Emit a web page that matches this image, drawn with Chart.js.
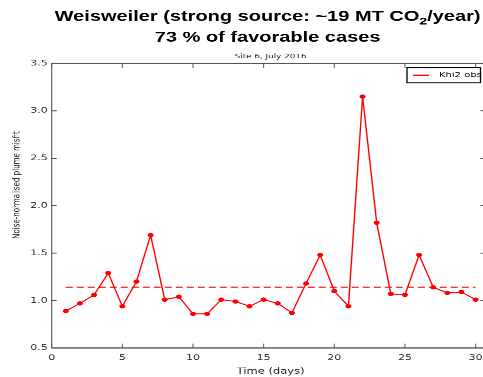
<!DOCTYPE html>
<html>
<head>
<meta charset="utf-8">
<script src="https://cdn.jsdelivr.net/npm/chart.js@4"></script>
<style>
    html, body { margin: 0; padding: 0; background: #fff; overflow: hidden; width: 483px; height: 377px; }
    /* the source figure was squashed vertically, so draw tall and squash it the same way */
    #wrap { width: 500px; height: 524px; transform: scaleY(0.72); transform-origin: 0 0; }
</style>
</head>
<body>
<div id="wrap"><canvas id="chart" width="500" height="524"></canvas></div>
<script>
// Site 6, July 2016 -- noise-normalised misfit per day
const DAYS = [1, 2, 3, 4, 5, 6, 7, 8, 9, 10, 11, 12, 13, 14, 15,
              16, 17, 18, 19, 20, 21, 22, 23, 24, 25, 26, 27, 28, 29, 30];
const MISFIT = [0.89, 0.97, 1.06, 1.29, 0.94, 1.20, 1.69, 1.01, 1.04, 0.86,
                0.86, 1.01, 0.99, 0.94, 1.01, 0.97, 0.87, 1.18, 1.48, 1.10,
                0.94, 3.15, 1.82, 1.07, 1.06, 1.48, 1.14, 1.08, 1.09, 1.01];
const MEAN_MISFIT = 1.14;
const X_TICKS = [0, 5, 10, 15, 20, 25, 30];
const Y_TICKS = [0.5, 1.0, 1.5, 2.0, 2.5, 3.0, 3.5];

const TITLE_MAIN = 'Weisweiler (strong source: ~19 MT CO';
const TITLE_SUB = '2';
const TITLE_END = '/year)';
const TITLE_LINE2 = '73 % of favorable cases';
const SUBTITLE = 'Site 6, July 2016';
const X_LABEL = 'Time (days)';
const Y_LABEL = 'Noise-normalised plume misfit';
const SERIES_LABEL = 'Khi2 obs';

const RED = '#ff0000';
const DASH_RED = '#ff3030';
const AXIS = '#555';

const decor = {
    id: 'decor',
    afterDraw(chart) {
        const { ctx, chartArea: a, scales } = chart;
        const xs = scales.x, ys = scales.y;
        ctx.save();
        ctx.strokeStyle = AXIS;

        // frame
        ctx.lineWidth = 1.1;
        ctx.beginPath();
        ctx.moveTo(a.left, a.top); ctx.lineTo(a.left, a.bottom);
        ctx.moveTo(a.right, a.top); ctx.lineTo(a.right, a.bottom);
        ctx.stroke();
        ctx.lineWidth = 1.6;
        ctx.beginPath();
        ctx.moveTo(a.left, a.top); ctx.lineTo(a.right, a.top);
        ctx.moveTo(a.left, a.bottom); ctx.lineTo(a.right, a.bottom);
        ctx.stroke();

        // inward ticks, matplotlib classic
        ctx.lineWidth = 1;
        ctx.beginPath();
        xs.ticks.forEach(t => {
            const px = xs.getPixelForValue(t.value);
            ctx.moveTo(px, a.bottom); ctx.lineTo(px, a.bottom - 6);
            ctx.moveTo(px, a.top); ctx.lineTo(px, a.top + 6);
        });
        ctx.stroke();
        ctx.lineWidth = 1.4;
        ctx.beginPath();
        ys.ticks.forEach(t => {
            const py = ys.getPixelForValue(t.value);
            ctx.moveTo(a.left, py); ctx.lineTo(a.left + 5, py);
            ctx.moveTo(a.right, py); ctx.lineTo(a.right - 5, py);
        });
        ctx.stroke();

        // titles
        const cx = (a.left + a.right) / 2;
        ctx.fillStyle = '#000';
        ctx.textBaseline = 'alphabetic';
        ctx.textAlign = 'left';
        const bold = "bold 20px 'Liberation Sans', Arial, sans-serif";
        const boldSub = "bold 14px 'Liberation Sans', Arial, sans-serif";
        ctx.font = bold;
        const w1 = ctx.measureText(TITLE_MAIN).width;
        const w3 = ctx.measureText(TITLE_END).width;
        ctx.font = boldSub;
        const w2 = ctx.measureText(TITLE_SUB).width;
        let x0 = cx - 1 - (w1 + w2 + w3) / 2;
        ctx.font = bold;
        ctx.fillText(TITLE_MAIN, x0, 29);
        ctx.font = boldSub;
        ctx.fillText(TITLE_SUB, x0 + w1, 34);
        ctx.font = bold;
        ctx.fillText(TITLE_END, x0 + w1 + w2, 29);
        ctx.textAlign = 'center';
        ctx.fillText(TITLE_LINE2, cx - 1, 58);

        ctx.textBaseline = 'middle';
        ctx.font = "8.8px 'DejaVu Sans', sans-serif";
        ctx.fillStyle = '#222';
        ctx.fillText(SUBTITLE, cx + 2, 78.7);

        // axis labels
        ctx.font = "11.5px 'DejaVu Sans', sans-serif";
        ctx.fillText(X_LABEL, cx + 2, 516);
        ctx.save();
        ctx.translate(17, 257);
        ctx.rotate(-Math.PI / 2);
        ctx.font = "9.8px 'DejaVu Sans', sans-serif";
        ctx.fillText(Y_LABEL, 0, 0);
        ctx.restore();

        // legend box
        const lx = a.right - 78.5, ly = a.top + 6, lw = 73.5, lh = 21;
        ctx.fillStyle = '#fff';
        ctx.fillRect(lx, ly, lw, lh);
        ctx.strokeStyle = '#000';
        ctx.lineWidth = 1.3;
        ctx.strokeRect(lx, ly, lw, lh);
        ctx.strokeStyle = RED;
        ctx.lineWidth = 1.8;
        ctx.beginPath();
        ctx.moveTo(lx + 6, ly + lh / 2); ctx.lineTo(lx + 22, ly + lh / 2);
        ctx.stroke();
        ctx.fillStyle = '#111';
        ctx.textAlign = 'left';
        ctx.font = "10px 'DejaVu Sans', sans-serif";
        ctx.fillText(SERIES_LABEL, lx + 32, ly + lh / 2);
        ctx.restore();
    },
};

new Chart(document.getElementById('chart'), {
    type: 'line',
    data: {
        datasets: [
            {
                label: SERIES_LABEL,
                data: DAYS.map((d, i) => ({ x: d, y: MISFIT[i] })),
                borderColor: RED,
                backgroundColor: RED,
                borderWidth: 1.4,
                pointRadius: 3,
                pointBorderWidth: 0,
                tension: 0,
            },
            {
                label: 'mean',
                data: [DAYS[0], DAYS[DAYS.length - 1]].map(d => ({ x: d, y: MEAN_MISFIT })),
                borderColor: DASH_RED,
                backgroundColor: 'transparent',
                fill: false,
                borderWidth: 2,
                borderDash: [7, 4],
                pointRadius: 0,
            },
        ],
    },
    options: {
        responsive: false,
        animation: false,
        devicePixelRatio: 2,
        layout: { padding: { top: 88, right: 14.5, left: 0, bottom: 0 } },
        plugins: {
            legend: { display: false },
            title: { display: false },
            tooltip: { enabled: false },
        },
        scales: {
            x: {
                type: 'linear',
                min: 0,
                max: 30.7,
                afterFit(scale) { scale.height = 40.7; },
                afterBuildTicks(scale) { scale.ticks = X_TICKS.map(v => ({ value: v })); },
                grid: { display: false, drawTicks: false },
                border: { display: false },
                ticks: { padding: 7, color: '#333', font: { family: 'DejaVu Sans', size: 11 }, maxRotation: 0 },
            },
            y: {
                min: 0.5,
                max: 3.5,
                afterFit(scale) { scale.width = 51.7; },
                afterBuildTicks(scale) { scale.ticks = Y_TICKS.map(v => ({ value: v })); },
                grid: { display: false, drawTicks: false },
                border: { display: false },
                ticks: {
                    padding: 4,
                    color: '#333',
                    font: { family: 'DejaVu Sans', size: 11 },
                    callback: v => v.toFixed(1),
                },
            },
        },
    },
    plugins: [decor],
});
</script>
</body>
</html>
